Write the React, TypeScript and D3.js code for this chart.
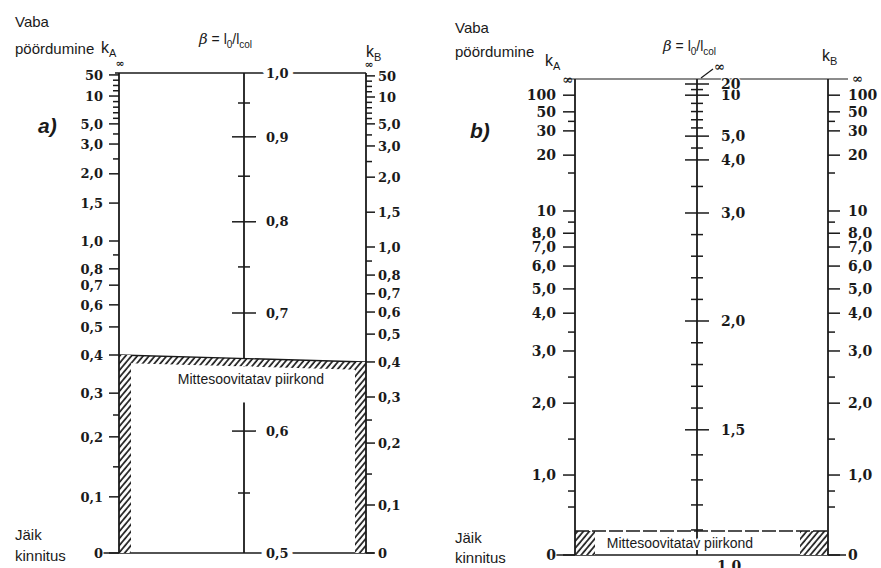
import React, { useEffect, useRef } from 'react';
import * as d3 from 'd3';

// a) – major / minor tick values of the three scales
const aKMajor = [0, 0.1, 0.2, 0.3, 0.4, 0.5, 0.6, 0.7, 0.8, 1.0, 1.5, 2.0, 3.0, 5.0, 10, 50];
const aKMinor = [0.15, 0.25, 0.9, 2.5, 4, 6, 7, 8, 9, 20, 30, 40];
const aBetaMajor = [0.6, 0.7, 0.8, 0.9];
const aBetaEnds = [0.5, 1.0];
const aBetaMinor = [0.55, 0.65, 0.75, 0.85, 0.95];
const aHatchK = 0.4;

// b) – major / minor tick values
const bKMajor = [0, 1.0, 2.0, 3.0, 4.0, 5.0, 6.0, 7.0, 8.0, 10, 20, 30, 50, 100];
const bKMinor = [0.6, 0.8, 1.5, 2.5, 3.5, 9, 15, 40];
const bBetaMajor = [1.5, 2.0, 3.0, 4.0, 5.0, 10, 20];
const bBetaMinor = [1.1, 1.2, 1.3, 1.4, 1.6, 1.7, 1.8, 1.9, 2.2, 2.4, 2.6, 2.8, 3.5, 4.5, 6, 7, 8, 9, 15];
const bBetaEnd = 1.0;
const bHatchK = 0.3;

// nomogram scale stops: value -> share of the axis height
type Stop = [number, number];
const aKAStops: Stop[] = [[0, 0], [0.1, 0.117], [0.2, 0.242], [0.3, 0.333], [0.4, 0.4125], [0.5, 0.471], [0.6, 0.517], [0.7, 0.558], [0.8, 0.592], [1, 0.65], [1.5, 0.729], [2, 0.79], [3, 0.852], [5, 0.894], [10, 0.952], [50, 0.996]];
const aKBStops: Stop[] = [[0, 0], [0.1, 0.1], [0.2, 0.229], [0.3, 0.325], [0.4, 0.398], [0.5, 0.456], [0.6, 0.502], [0.7, 0.54], [0.8, 0.579], [1, 0.6375], [1.5, 0.71], [2, 0.783], [3, 0.848], [5, 0.894], [10, 0.95], [50, 0.994]];
const aBetaStops: Stop[] = [[0.5, 0], [0.55, 0.125], [0.6, 0.254], [0.7, 0.5], [0.75, 0.596], [0.8, 0.69], [0.85, 0.785], [0.9, 0.867], [0.95, 0.9375], [1, 1]];
const bKStops: Stop[] = [[0, 0], [1, 0.168], [2, 0.319], [3, 0.4286], [4, 0.508], [5, 0.559], [6, 0.607], [7, 0.647], [8, 0.676], [10, 0.7227], [15, 0.8025], [20, 0.84], [30, 0.891], [50, 0.931], [100, 0.966]];
const bBetaStops: Stop[] = [[1, 0], [1.5, 0.263], [2, 0.4916], [3, 0.7185], [4, 0.83], [5, 0.88], [10, 0.966], [20, 0.9895]];

const W = 881;
const H = 568;
const ink = '#1a1a1a';
const sans = '"Liberation Sans", Arial, sans-serif';
const serif = '"DejaVu Serif", serif';

const fmt = (v: number) => (v === 0 ? '0' : v >= 10 ? String(v) : v.toFixed(1).replace('.', ','));

const nomoScale = (stops: Stop[], yBot: number, yTop: number) => {
  const share = d3.scaleLinear().domain(stops.map(s => s[0])).range(stops.map(s => s[1])).clamp(true);
  const y = d3.scaleLinear().domain([0, 1]).range([yBot, yTop]);
  return (v: number) => (v === Infinity ? y(1) : y(share(v)));
};

const halo = (sel: any, w = 4) =>
  sel.attr('stroke', '#fff').attr('stroke-width', w).attr('paint-order', 'stroke').attr('stroke-linejoin', 'round');

const drawAxis = (g: any, x: number, y: (v: number) => number, yTop: number, yBot: number,
  major: number[], minor: number[], o: any) => {
  g.append('line')
    .attr('x1', x).attr('x2', x).attr('y1', yTop).attr('y2', yBot)
    .attr('stroke', ink).attr('stroke-width', 1.8);

  const dir = o.side === 'left' ? -1 : 1;
  const ticks = (vals: number[], len: number) =>
    g.append('g').selectAll('line').data(vals).join('line')
      .attr('x1', o.side === 'both' ? x - len : x)
      .attr('x2', o.side === 'both' ? x + len : x + dir * len)
      .attr('y1', (d: number) => y(d)).attr('y2', (d: number) => y(d))
      .attr('stroke', ink).attr('stroke-width', 1.5);
  ticks(minor, o.minorLen);
  ticks(major, o.majorLen);

  g.append('g').selectAll('text').data(major).join('text')
    .attr('x', o.side === 'left' ? x - o.gap : x + o.gap)
    .attr('y', (d: number) => y(d))
    .attr('dy', '0.36em')
    .attr('text-anchor', o.side === 'left' ? 'end' : 'start')
    .attr('font-family', serif).attr('font-weight', 'bold').attr('font-size', o.size)
    .attr('fill', ink)
    .call(halo, 2)
    .text(fmt);
};

const label = (g: any, x: number, y: number, txt: string, size = 15, anchor = 'start') =>
  g.append('text').attr('x', x).attr('y', y).attr('text-anchor', anchor)
    .attr('font-family', sans).attr('font-size', size).attr('fill', ink).text(txt);

const kLabel = (g: any, x: number, y: number, sub: string) => {
  const t = g.append('text').attr('x', x).attr('y', y).attr('font-family', sans).attr('font-size', 16).attr('fill', ink);
  t.append('tspan').text('k');
  t.append('tspan').attr('font-size', 11).attr('dy', 4).text(sub);
};

const betaLabel = (g: any, x: number, y: number) => {
  const t = g.append('text').attr('x', x).attr('y', y).attr('font-family', sans).attr('font-size', 14).attr('fill', ink);
  t.append('tspan').attr('font-family', serif).attr('font-style', 'italic').attr('font-size', 15).text('β');
  t.append('tspan').text(' = l');
  t.append('tspan').attr('font-size', 10).attr('dy', 4).text('0');
  t.append('tspan').attr('dy', -4).text('/l');
  t.append('tspan').attr('font-size', 10).attr('dy', 4).text('col');
};

const App = () => {
  const ref = useRef<SVGSVGElement | null>(null);

  useEffect(() => {
    const svg = d3.select(ref.current);
    svg.selectAll('*').remove();

    const defs = svg.append('defs');
    const pat = defs.append('pattern').attr('id', 'hatch').attr('patternUnits', 'userSpaceOnUse')
      .attr('width', 4.5).attr('height', 4.5).attr('patternTransform', 'rotate(40)');
    pat.append('rect').attr('width', 4.5).attr('height', 4.5).attr('fill', '#fff');
    pat.append('line').attr('x1', 1).attr('x2', 1).attr('y1', 0).attr('y2', 4.5).attr('stroke', ink).attr('stroke-width', 1.7);

    // ---------------- a) ----------------
    const A = { xl: 119, xc: 244, xr: 366, yTop: 73, yBot: 553 };
    const yKA = nomoScale(aKAStops, A.yBot, A.yTop);
    const yKB = nomoScale(aKBStops, A.yBot, A.yTop);
    const yBa = nomoScale(aBetaStops, A.yBot, A.yTop);
    const ga = svg.append('g');

    // top and bottom base lines
    ga.append('line').attr('x1', A.xl - 4).attr('x2', A.xr).attr('y1', yBa(1)).attr('y2', yBa(1))
      .attr('stroke', ink).attr('stroke-width', 1.6);
    ga.append('line').attr('x1', A.xl - 16).attr('x2', A.xr + 8).attr('y1', yBa(0.5)).attr('y2', yBa(0.5))
      .attr('stroke', ink).attr('stroke-width', 1.6);

    drawAxis(ga, A.xc, yBa, yBa(1), yBa(0.5), aBetaMajor, aBetaMinor,
      { side: 'both', majorLen: 12, minorLen: 6, gap: 22, size: 13 });
    // β end values sit on the base lines
    ga.append('g').selectAll('text').data(aBetaEnds).join('text')
      .attr('x', A.xc + 22).attr('y', d => yBa(d)).attr('dy', '0.36em')
      .attr('font-family', serif).attr('font-weight', 'bold').attr('font-size', 13).attr('fill', ink)
      .call(halo, 10).text(fmt);

    // not recommended region
    const bandH = 8;
    ga.append('path')
      .attr('d', `M${A.xl},${yKA(aHatchK)}L${A.xr},${yKB(aHatchK)}L${A.xr},${yKB(aHatchK) + bandH}L${A.xl},${yKA(aHatchK) + bandH}Z`)
      .attr('fill', 'url(#hatch)');
    ga.append('line').attr('x1', A.xl).attr('x2', A.xr).attr('y1', yKA(aHatchK)).attr('y2', yKB(aHatchK))
      .attr('stroke', ink).attr('stroke-width', 1.4);
    ga.append('rect').attr('x', A.xl).attr('y', yKA(aHatchK)).attr('width', 12)
      .attr('height', yKA(0) - yKA(aHatchK)).attr('fill', 'url(#hatch)');
    ga.append('rect').attr('x', A.xr - 11).attr('y', yKB(aHatchK)).attr('width', 11)
      .attr('height', yKB(0) - yKB(aHatchK)).attr('fill', 'url(#hatch)');
    const bandBot = (yKA(aHatchK) + yKB(aHatchK)) / 2 + bandH;
    ga.append('rect').attr('x', A.xc - 8).attr('y', bandBot).attr('width', 16).attr('height', 36).attr('fill', '#fff');
    label(ga, 251, 384, 'Mittesoovitatav piirkond', 14, 'middle').call(halo, 3);

    drawAxis(ga, A.xl, yKA, yKA(Infinity), yKA(0), aKMajor, aKMinor,
      { side: 'left', majorLen: 10, minorLen: 6, gap: 16, size: 13 });
    drawAxis(ga, A.xr, yKB, yKB(Infinity), yKB(0), aKMajor, aKMinor,
      { side: 'right', majorLen: 9, minorLen: 6, gap: 12, size: 13 });

    ga.append('text').attr('x', A.xl + 1).attr('y', 67).attr('text-anchor', 'middle')
      .attr('font-family', serif).attr('font-weight', 'bold').attr('font-size', 11).attr('fill', ink).text('∞');
    ga.append('text').attr('x', A.xr + 3).attr('y', 68).attr('text-anchor', 'middle')
      .attr('font-family', serif).attr('font-weight', 'bold').attr('font-size', 11).attr('fill', ink).text('∞');

    label(ga, 15, 27, 'Vaba');
    label(ga, 15, 54, 'pöördumine');
    kLabel(ga, 101, 53, 'A');
    betaLabel(ga, 199, 44);
    kLabel(ga, 366, 57, 'B');
    label(ga, 38, 133, 'a)', 21).attr('font-weight', 'bold').attr('font-style', 'italic');
    label(ga, 15, 540, 'Jäik');
    label(ga, 15, 561, 'kinnitus');

    // ---------------- b) ----------------
    const B = { xl: 575, xc: 697, xr: 828, yTop: 79, yBot: 555 };
    const yK = nomoScale(bKStops, B.yBot, B.yTop);
    const yBb = nomoScale(bBetaStops, B.yBot, B.yTop);
    const gb = svg.append('g');

    gb.append('line').attr('x1', B.xl - 8).attr('x2', B.xr + 20).attr('y1', yK(Infinity)).attr('y2', yK(Infinity))
      .attr('stroke', ink).attr('stroke-width', 1.2);
    gb.append('line').attr('x1', B.xl - 22).attr('x2', B.xr + 18).attr('y1', yK(0)).attr('y2', yK(0))
      .attr('stroke', ink).attr('stroke-width', 1.4);

    drawAxis(gb, B.xc, yBb, yBb(Infinity), yBb(bBetaEnd), bBetaMajor, bBetaMinor,
      { side: 'both', majorLen: 12, minorLen: 6, gap: 24, size: 14 });

    // not recommended region
    const hy = yK(bHatchK);
    gb.append('rect').attr('x', B.xl).attr('y', hy).attr('width', 20).attr('height', yK(0) - hy).attr('fill', 'url(#hatch)');
    gb.append('rect').attr('x', B.xr - 28).attr('y', hy).attr('width', 28).attr('height', yK(0) - hy).attr('fill', 'url(#hatch)');
    gb.append('line').attr('x1', B.xl).attr('x2', B.xr).attr('y1', hy).attr('y2', hy)
      .attr('stroke', ink).attr('stroke-width', 1.4).attr('stroke-dasharray', '14 3');
    label(gb, 680, 548, 'Mittesoovitatav piirkond', 14, 'middle').call(halo, 4);
    gb.append('text').attr('x', B.xc + 20).attr('y', 571)
      .attr('font-family', serif).attr('font-weight', 'bold').attr('font-size', 14).attr('fill', ink)
      .call(halo, 4).text(fmt(bBetaEnd));

    drawAxis(gb, B.xl, yK, yK(Infinity), yK(0), bKMajor, bKMinor,
      { side: 'left', majorLen: 12, minorLen: 7, gap: 19, size: 14 });
    drawAxis(gb, B.xr, yK, yK(Infinity), yK(0), bKMajor, bKMinor,
      { side: 'right', majorLen: 12, minorLen: 7, gap: 20, size: 14 });

    // ∞ marks
    gb.append('line').attr('x1', B.xc + 4).attr('y1', yBb(Infinity) - 1).attr('x2', B.xc + 16).attr('y2', 69)
      .attr('stroke', ink).attr('stroke-width', 1.2);
    gb.append('text').attr('x', B.xc + 17).attr('y', 71)
      .attr('font-family', serif).attr('font-weight', 'bold').attr('font-size', 13).attr('fill', ink).text('∞');
    gb.append('text').attr('x', B.xl - 2).attr('y', yK(Infinity) + 5).attr('text-anchor', 'end')
      .attr('font-family', serif).attr('font-weight', 'bold').attr('font-size', 13).attr('fill', ink).text('∞');
    gb.append('text').attr('x', B.xr + 24).attr('y', yK(Infinity) + 4)
      .attr('font-family', serif).attr('font-weight', 'bold').attr('font-size', 13).attr('fill', ink)
      .call(halo, 3).text('∞');

    label(gb, 455, 33, 'Vaba');
    label(gb, 455, 57, 'pöördumine');
    kLabel(gb, 545, 66, 'A');
    betaLabel(gb, 663, 51);
    kLabel(gb, 822, 61, 'B');
    label(gb, 470, 138, 'b)', 21).attr('font-weight', 'bold').attr('font-style', 'italic');
    label(gb, 455, 543, 'Jäik');
    label(gb, 455, 563, 'kinnitus');
  }, []);

  return (
    <div style={{ position: 'absolute', left: 0, top: 0, width: W, height: H, background: '#fff' }}>
      <svg ref={ref} width={W} height={H} viewBox={`0 0 ${W} ${H}`} style={{ display: 'block' }} />
    </div>
  );
};

export default App;
